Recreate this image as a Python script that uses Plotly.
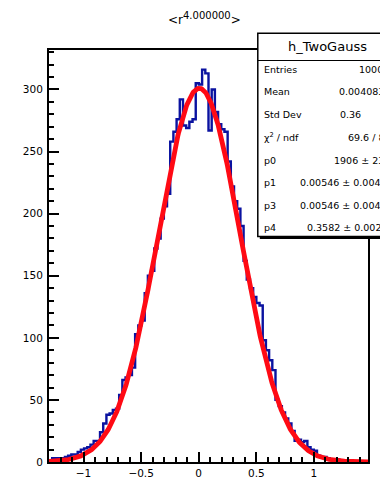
import numpy as np
import plotly.graph_objects as go

# Histogram definition
X_MIN, X_MAX, N_BINS = -1.30, 1.47, 100

counts = [
    1, 3, 3, 3, 3, 4, 5, 6, 6, 8,
    10, 11, 12, 14, 17, 17, 24, 31, 38, 39,
    42, 43, 54, 66, 68, 70, 76, 103, 110, 114,
    136, 150, 154, 172, 180, 196, 206, 216, 258, 266,
    276, 292, 271, 269, 274, 276, 305, 304, 316, 313,
    267, 300, 282, 272, 268, 266, 242, 222, 210, 204,
    190, 162, 147, 140, 133, 128, 126, 98, 90, 82,
    74, 50, 45, 40, 35, 31, 25, 17, 18, 16,
    17, 12, 10, 9, 5, 4, 4, 3, 2, 1,
    2, 1, 1, 0, 1, 0, 0, 0, 0, 0,
]

# Fitted gaussian (peak height, mean, width)
fit_peak = 301.0
fit_mean = 0.00546
fit_sigma = 0.3582

x_tick_step, x_minor_step = 0.5, 0.1
y_tick_step, y_minor_step = 50, 10

title_base = "&lt;r"
title_power = "4.000000"

stats_name = "h_TwoGauss"
stats_labels = ["Entries", "Mean", "Std Dev", "χ<sup>2</sup> / ndf",
                "p0", "p1", "p3", "p4"]
stats_values = ["10000", "0.004083", "0.36", "69.6 / 84",
                "1906 ± 23.5", "0.00546 ± 0.00462", "0.00546 ± 0.00462",
                "0.3582 ± 0.0026"]

# ---- page geometry (pixels) ----
W, H = 380, 479
L, R, T, B = 49.3, 367.7, 49.5, 461.7


def xp(px):
    return (px - L) / (R - L)


def yp(py):
    return (B - py) / (B - T)


FONT = "DejaVu Sans"
HIST_COLOR = "#0a12a0"
FIT_COLOR = "#ff0a14"

edges = np.linspace(X_MIN, X_MAX, N_BINS + 1)
step_y = list(counts) + [counts[-1]]

xs = np.linspace(X_MIN, X_MAX, 600)
fit_y = fit_peak * np.exp(-0.5 * ((xs - fit_mean) / fit_sigma) ** 2)

fig = go.Figure()
fig.add_trace(go.Scatter(
    x=edges, y=step_y, mode="lines", line_shape="hv",
    line=dict(color=HIST_COLOR, width=2.4), hoverinfo="skip",
))
fig.add_trace(go.Scatter(
    x=xs, y=fit_y, mode="lines",
    line=dict(color=FIT_COLOR, width=4.8), hoverinfo="skip",
))

y_max = 1.05 * max(counts)

axis_common = dict(
    showgrid=False, zeroline=False, showline=True, linecolor="black",
    linewidth=2, mirror=True, ticks="inside", ticklen=10, tickwidth=1.5,
    tickcolor="black", tickfont=dict(family=FONT, size=10.5, color="black"),
)
fig.update_xaxes(
    range=[X_MIN, X_MAX], tick0=0, dtick=x_tick_step, ticklabelstandoff=0,
    minor=dict(ticks="inside", ticklen=5, tickwidth=1.5, tickcolor="black",
               tick0=0, dtick=x_minor_step, showgrid=False),
    **axis_common,
)
fig.update_yaxes(
    range=[0, y_max], tick0=0, dtick=y_tick_step, ticklabelstandoff=2,
    minor=dict(ticks="inside", ticklen=5, tickwidth=1.5, tickcolor="black",
               tick0=0, dtick=y_minor_step, showgrid=False),
    **axis_common,
)

# ---- statistics box ----
box_left, box_top, box_bottom, box_right = 257.7, 32.7, 236.0, 430.0
shapes = [
    dict(type="rect", xref="paper", yref="paper",
         x0=xp(box_left + 2), x1=xp(box_right + 2),
         y0=yp(box_bottom + 2.5), y1=yp(box_top + 2.5),
         fillcolor="black", line=dict(width=0), layer="above"),
    dict(type="rect", xref="paper", yref="paper",
         x0=xp(box_left), x1=xp(box_right),
         y0=yp(box_bottom), y1=yp(box_top),
         fillcolor="white", line=dict(color="black", width=1.5), layer="above"),
    dict(type="line", xref="paper", yref="paper",
         x0=xp(box_left), x1=xp(box_right), y0=yp(60.0), y1=yp(60.0),
         line=dict(color="black", width=1.2), layer="above"),
]

annotations = [
    dict(text=stats_name, x=xp(327), y=yp(45.5), xref="paper", yref="paper",
         showarrow=False, xanchor="center", yanchor="middle",
         font=dict(family=FONT, size=13, color="black")),
    dict(text=f"{title_base}<sup><span style='font-size:10px'>{title_power}</span></sup>&gt;",
         x=xp(205), y=yp(18), xref="paper", yref="paper",
         showarrow=False, xanchor="center", yanchor="middle",
         font=dict(family=FONT, size=12, color="black")),
]

row_y = [69.0, 91.5, 114.0, 137.0, 160.0, 182.5, 205.0, 227.5]
value_x = [356.7, 336.7, 337.7, 345.7, 331.7, 298.3, 298.3, 305.0]
for lab, val, ry, vx in zip(stats_labels, stats_values, row_y, value_x):
    annotations.append(dict(
        text=lab, x=xp(262), y=yp(ry), xref="paper", yref="paper",
        showarrow=False, xanchor="left", yanchor="middle",
        font=dict(family=FONT, size=9.5, color="black")))
    annotations.append(dict(
        text=val, x=xp(vx), y=yp(ry), xref="paper", yref="paper",
        showarrow=False, xanchor="left", yanchor="middle",
        font=dict(family=FONT, size=9.5, color="black")))

fig.update_layout(
    width=W, height=H, autosize=False,
    margin=dict(l=L, r=W - R, t=T, b=H - B, pad=0, autoexpand=False),
    paper_bgcolor="white", plot_bgcolor="white",
    showlegend=False, shapes=shapes, annotations=annotations,
    font=dict(family=FONT, color="black"),
)

fig.write_html("out.html", config={"displayModeBar": False})
